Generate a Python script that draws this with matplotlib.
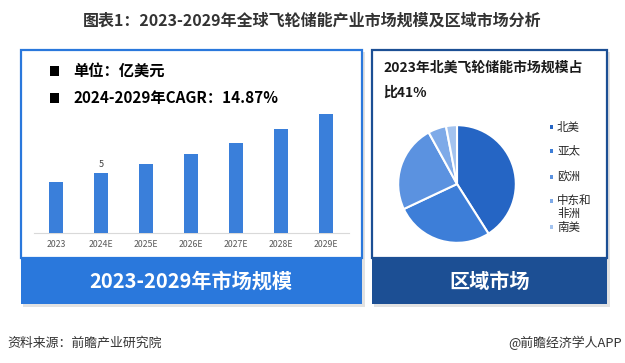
import matplotlib
matplotlib.use("Agg")
import matplotlib.pyplot as plt
from matplotlib.patches import Rectangle

plt.rcParams['font.family'] = ['Noto Sans CJK SC', 'DejaVu Sans']

# ---- data ----
years = ["2023", "2024E", "2025E", "2026E", "2027E", "2028E", "2029E"]
market_size = [4.3, 5.0, 5.74, 6.6, 7.57, 8.7, 10.0]
labeled_index = 1          # only 2024E value shown
regions = ["北美", "亚太", "欧洲", "中东和\n非洲", "南美"]
region_share = [41, 27, 24, 5, 3]
region_colors = ["#2565c4", "#3d7ed8", "#5b92e0", "#7eaae8", "#a3c3ef"]

title = "图表1：2023-2029年全球飞轮储能产业市场规模及区域市场分析"
unit_text = "单位：亿美元"
cagr_text = "2024-2029年CAGR：14.87%"
pie_title1 = "2023年北美飞轮储能市场规模占"
pie_title2 = "比41%"
left_label = "2023-2029年市场规模"
right_label = "区域市场"
source = "资料来源：前瞻产业研究院"
brand = "@前瞻经济学人APP"

W, H = 625, 363
fig = plt.figure(figsize=(W / 100, H / 100), dpi=100)
fig.patch.set_facecolor("white")


def fx(x):
    return x / W


def fy(y):
    return 1 - y / H


def rect(x0, y0, x1, y1, **kw):
    r = Rectangle((fx(x0), fy(y1)), (x1 - x0) / W, (y1 - y0) / H,
                  transform=fig.transFigure, **kw)
    fig.add_artist(r)
    return r


def axes_px(x0, y0, x1, y1):
    a = fig.add_axes([fx(x0), fy(y1), (x1 - x0) / W, (y1 - y0) / H])
    a.set_zorder(5)
    return a


LEFT_BLUE = "#2a78dc"
RIGHT_BLUE = "#1c4f94"

# shadows
rect(23, 52, 365, 307, facecolor="#d0d0d0", edgecolor="none", alpha=0.6, zorder=0)
rect(374, 52, 610, 307, facecolor="#d0d0d0", edgecolor="none", alpha=0.6, zorder=0)

# panels
rect(21, 50, 362, 258, facecolor="white", edgecolor=LEFT_BLUE, linewidth=1.6, zorder=1)
rect(372, 50, 607, 258, facecolor="white", edgecolor=RIGHT_BLUE, linewidth=1.6, zorder=1)
rect(21, 257, 362, 304, facecolor=LEFT_BLUE, edgecolor="none", zorder=2)
rect(372, 257, 607, 304, facecolor=RIGHT_BLUE, edgecolor="none", zorder=2)

# title
fig.text(fx(312), fy(21), title, ha="center", va="center", fontsize=11.5,
         fontweight="bold", color="#333333")

# left panel texts
for yy, txt in [(71, unit_text), (98, cagr_text)]:
    rect(50, yy - 4.5, 59, yy + 4.5, facecolor="black", edgecolor="none", zorder=3)
    fig.text(fx(73), fy(yy), txt, ha="left", va="center", fontsize=11,
             fontweight="bold", color="black")

# bar chart
ax = axes_px(33.5, 100, 348.5, 232.7)
ax.set_facecolor("none")
x = range(len(years))
bars = ax.bar(x, market_size, width=0.31, color="#3a7fda", zorder=3)
ax.set_xlim(-0.5, len(years) - 0.5)
ax.set_ylim(0, 132.7 / 11.9)
ax.set_xticks(list(x))
ax.set_xticklabels(years, fontsize=6.3, color="#595959")
ax.tick_params(axis="x", length=0, pad=5)
ax.set_yticks([])
for s in ["top", "right", "left"]:
    ax.spines[s].set_visible(False)
ax.spines["bottom"].set_color("#d9d9d9")
ax.spines["bottom"].set_linewidth(0.8)
b = bars[labeled_index]
ax.text(b.get_x() + b.get_width() / 2, market_size[labeled_index] + 0.35,
        f"{market_size[labeled_index]:g}", ha="center", va="bottom",
        fontsize=6.5, color="#404040")

# right panel title
fig.text(fx(383), fy(68), pie_title1, ha="left", va="center", fontsize=10,
         fontweight="bold", color="#1a1a1a")
fig.text(fx(383), fy(93), pie_title2, ha="left", va="center", fontsize=10,
         fontweight="bold", color="#1a1a1a")

# pie
pax = axes_px(397, 124, 517, 244)
pax.pie(region_share, colors=region_colors, startangle=90, counterclock=False,
        wedgeprops=dict(edgecolor="white", linewidth=1.5))
pax.set_xlim(-1.02, 1.02)
pax.set_ylim(-1.02, 1.02)
pax.set_aspect("equal")
pax.axis("off")

# legend
leg_y = [127, 151, 177, 201, 227]
for yy, name, col in zip(leg_y, regions, region_colors):
    rect(549.5, yy - 1.7, 553, yy + 1.7, facecolor=col, edgecolor="none", zorder=3)
    if "\n" in name:
        fig.text(fx(557), fy(yy - 7), name, ha="left", va="top",
                 fontsize=8.3, color="#262626", linespacing=0.95)
    else:
        fig.text(fx(557), fy(yy), name, ha="left", va="center",
                 fontsize=8.3, color="#262626")

# bottom labels
fig.text(fx(191), fy(281), left_label, ha="center", va="center", fontsize=14.5,
         fontweight="bold", color="white")
fig.text(fx(490), fy(281), right_label, ha="center", va="center", fontsize=14.5,
         fontweight="bold", color="white")

# footer
fig.text(fx(7), fy(343), source, ha="left", va="center", fontsize=9.3, color="#333333")
fig.text(fx(622), fy(343), brand, ha="right", va="center", fontsize=9.3, color="#333333")

fig.savefig("out.png", dpi=100, facecolor="white")
